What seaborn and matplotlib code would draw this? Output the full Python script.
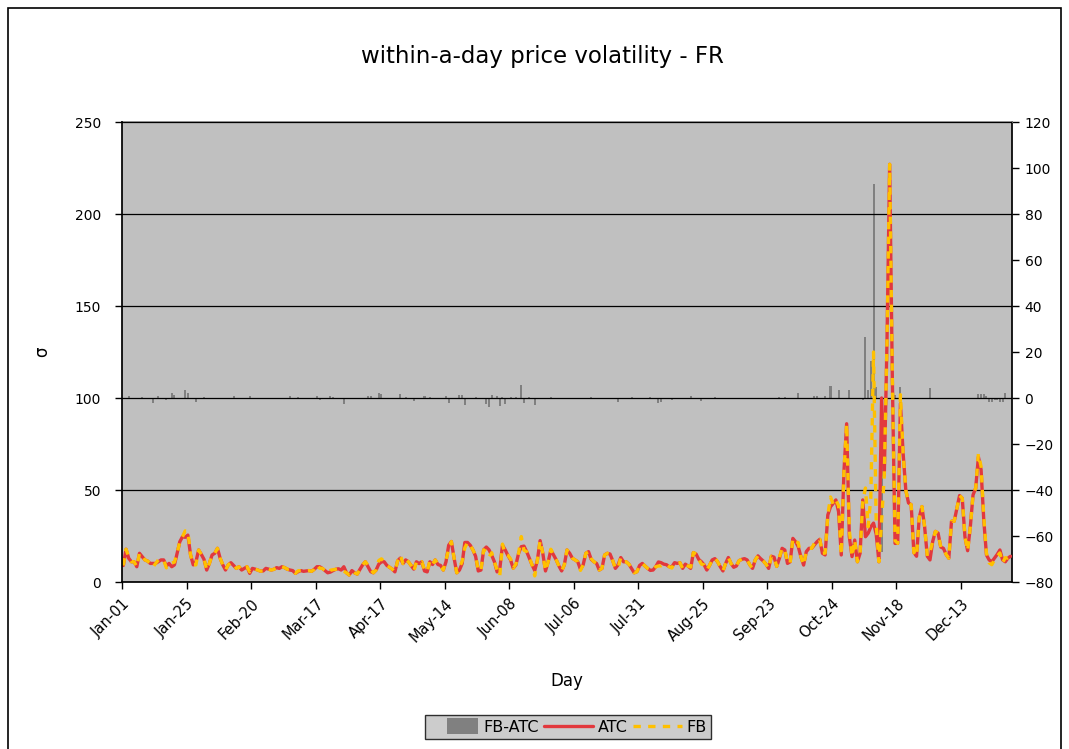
import numpy as np
import pandas as pd
import matplotlib
matplotlib.use("Agg")
import matplotlib.pyplot as plt
import seaborn as sns
from matplotlib.patches import Rectangle, Patch
from matplotlib.lines import Line2D
from matplotlib.legend_handler import HandlerPatch

# ---------------- data ----------------
TICK_LABELS = ["Jan-01", "Jan-25", "Feb-20", "Mar-17", "Apr-17", "May-14", "Jun-08",
               "Jul-06", "Jul-31", "Aug-25", "Sep-23", "Oct-24", "Nov-18", "Dec-13"]
TICK_STEP = 24

ATC = [
    9, 17.8, 12.9, 11, 11, 8.3, 15.6, 13.8, 12, 11.4, 10.1, 10.1, 10.1, 11, 12, 12, 8.7, 10.1, 8.3, 9.3, 15.6, 21.9, 24.6, 24.3,
    25.5, 14.7, 9.3, 11, 17.4, 15, 12.3, 6.5, 10.1, 14.7, 15.6, 18.3, 12.9, 9.3, 6.5, 9.3, 10.5, 9, 7.4, 8.3, 6.5, 7.4, 8.3, 4.7,
    7.4, 7, 6.5, 5.9, 6, 7.4, 7, 6.5, 6.9, 7.8, 7.4, 8.3, 7.8, 6.9, 6.5, 6.2, 4.7, 5.6, 6.2, 5.8, 6, 6.2, 5.8, 6.9,
    8.3, 8.3, 7.4, 6.2, 5, 5.4, 6.2, 6.9, 7.2, 6.5, 8.3, 5, 3.8, 6.2, 5, 4.3, 6.9, 9.3, 11, 8.3, 5.6, 5, 6.5, 9.7,
    11, 11, 9, 8, 7, 5.5, 11.5, 13, 10, 12, 11, 9, 7, 11, 10, 11, 6, 5.5, 11, 9.5, 12, 9.5, 9, 6.5,
    11, 20, 22, 13, 5, 6.5, 10, 21.5, 21.5, 20, 17.5, 14, 6, 6.5, 17.5, 19, 17.5, 14.5, 11, 5.5, 7, 20, 17.5, 14.5,
    12, 7.5, 9.3, 15.6, 19.2, 19.5, 16.5, 12.9, 9.3, 6.2, 12, 22.5, 15.6, 6, 11, 17.4, 14.7, 12, 8.7, 6, 9.3, 17.4, 15.6, 12.9,
    12, 11, 6.9, 9.3, 15.6, 16.5, 12.3, 11, 10.1, 6.5, 7.4, 14.7, 15.6, 15.2, 11.6, 7.4, 9.3, 13.3, 11, 11, 9.7, 7.4, 5, 5.6,
    9, 10.1, 8.7, 7.4, 6.3, 6.5, 8.3, 10.9, 10.5, 9.7, 9.4, 8.3, 8.3, 10.5, 10.1, 10.5, 7.4, 9.7, 8.7, 7.4, 16, 15.2, 12.3, 11,
    9.3, 6.5, 9, 12, 12.7, 11, 8.3, 6, 10.1, 13.3, 10.1, 8, 8.7, 11.6, 12.3, 12.7, 12, 9.3, 7.4, 12, 14.2, 12.7, 11.4, 9.7,
    7.4, 14, 13.5, 8.5, 12.9, 18.3, 17.4, 10.1, 11, 23.7, 21.9, 19.2, 13.7, 9.2, 16.5, 18.3, 18.3, 20.1, 21.9, 23.2, 15.6, 14.7, 36.4, 40.9,
    42.7, 44.6, 38.2, 14.7, 60, 86, 24.6, 13.8, 22.8, 11, 15.6, 44.6, 24.6, 26.5, 30, 32, 26, 11, 100, 58, 130, 227, 110, 21,
    21, 97, 70, 50, 43, 42, 16, 14, 35, 41, 30, 14, 12, 22, 27.5, 26.6, 19, 18.3, 15, 12.9, 33, 33, 40, 47,
    45.5, 24.6, 17, 30, 47.3, 51, 68, 61, 33.7, 14.7, 12, 11, 13, 15, 17.4, 12, 11, 13, 14,
]

FB = [
    9, 17.8, 13.6, 11, 11, 8.3, 15.6, 14.3, 12, 11.4, 10.1, 8.1, 10.1, 12, 12, 12, 7.7, 10.1, 10.3, 10.8, 15.6, 21.9, 24.6, 27.8,
    27.5, 14.7, 9.3, 9.3, 17.4, 15, 12.8, 6.5, 10.1, 14.7, 15.6, 18.3, 12.9, 9.3, 6.5, 9.3, 10.5, 10, 7.4, 8.3, 6.5, 7.4, 8.3, 5.5,
    7.4, 7, 6.5, 5.9, 6, 7.4, 7, 6.5, 6.9, 7.8, 7.4, 8.3, 7.8, 6.9, 7.2, 6.2, 4.7, 6.1, 6.2, 5.8, 6, 6.2, 5.8, 6.9,
    9.3, 7.5, 7.4, 6.2, 5, 6.4, 6.7, 6.9, 7.2, 6.5, 5.8, 5, 3.8, 6.2, 5, 4.3, 6.9, 9.3, 11, 9.1, 6.6, 5, 6.5, 11.7,
    12.6, 11, 9, 8, 7, 5.5, 11.5, 14.7, 10, 12.6, 11, 9, 5.7, 11, 10, 11, 6.7, 5.5, 11.6, 9.5, 12, 9.5, 9, 6.5,
    12, 17.8, 22, 13, 5, 7.9, 11.2, 18.6, 21.5, 20, 17.5, 14.6, 6, 6.5, 17.5, 16.5, 13.6, 15.9, 11, 6.5, 3.4, 20.6, 15, 14.5,
    12.6, 7.5, 9.7, 15.6, 24.7, 17.3, 16.5, 13.3, 9.3, 3.3, 12, 22.5, 15.6, 6, 11, 17.8, 14.7, 12, 8.7, 6, 9.3, 17.4, 15.6, 12.9,
    12, 11, 6.3, 9.3, 15.6, 16.5, 12.7, 11, 10.1, 6.5, 7.4, 14.7, 15.6, 15.2, 11.6, 7.4, 7.6, 13.3, 11, 11, 9.7, 7.8, 5, 5.6,
    9, 10.1, 8.7, 7.4, 6.7, 6.5, 8.3, 8.7, 8.8, 9.7, 9.4, 8.3, 7.6, 10.5, 10.1, 10.5, 7.4, 9.7, 8.7, 8.1, 16, 15.2, 12.3, 9.7,
    9.3, 6.5, 9, 12, 13.1, 11, 8.3, 6, 10.1, 13.3, 10.1, 8, 8.7, 11.6, 12.3, 12.7, 12, 9.3, 7.4, 12, 14.2, 12.7, 11.4, 9.7,
    7.4, 14, 13.5, 8.5, 13.3, 18.3, 17.8, 10.1, 10.5, 23.7, 21.9, 21.4, 13.7, 9.2, 16.5, 18.3, 18.3, 21.1, 22.9, 23.2, 15.6, 15.7, 36.4, 46.2,
    42.2, 44.6, 41.5, 14.7, 60, 86, 28.2, 13.8, 22.8, 11, 15.6, 43.8, 51.1, 30, 46, 125, 31, 11, 33, 58, 130, 227, 112, 22.5,
    21, 101.8, 70, 50, 43, 42, 16, 14, 35, 41, 30, 14, 16.3, 22, 27.5, 26.6, 19, 18.3, 15, 12.9, 33, 33, 40, 47,
    45.5, 24.6, 17, 30, 47.3, 51, 69.7, 62.7, 35.4, 15.7, 10.4, 9.4, 12.2, 14, 15.8, 10.4, 13.2, 13, 14,
]

FB_ATC = [
    0, 0, 0.7, 0, 0, 0, 0, 0.5, 0, 0, 0, -2, 0, 1, 0, 0, -1, 0, 2, 1.5, 0, 0, 0, 3.5,
    2, 0, 0, -1.7, 0, 0, 0.5, 0, 0, 0, 0, 0, 0, 0, 0, 0, 0, 1, 0, 0, 0, 0, 0, 0.8,
    0, 0, 0, 0, 0, 0, 0, 0, 0, 0, 0, 0, 0, 0, 0.7, 0, 0, 0.5, 0, 0, 0, 0, 0, 0,
    1, -0.8, 0, 0, 0, 1, 0.5, 0, 0, 0, -2.5, 0, 0, 0, 0, 0, 0, 0, 0, 0.8, 1, 0, 0, 2,
    1.6, 0, 0, 0, 0, 0, 0, 1.7, 0, 0.6, 0, 0, -1.3, 0, 0, 0, 0.7, 0, 0.6, 0, 0, 0, 0, 0,
    1, -2.2, 0, 0, 0, 1.4, 1.2, -2.9, 0, 0, 0, 0.6, 0, 0, 0, -2.5, -3.9, 1.4, 0, 1, -3.6, 0.6, -2.5, 0,
    0.6, 0, 0.4, 0, 5.5, -2.2, 0, 0.4, 0, -2.9, 0, 0, 0, 0, 0, 0.4, 0, 0, 0, 0, 0, 0, 0, 0,
    0, 0, -0.6, 0, 0, 0, 0.4, 0, 0, 0, 0, 0, 0, 0, 0, 0, -1.7, 0, 0, 0, 0, 0.4, 0, 0,
    0, 0, 0, 0, 0.4, 0, 0, -2.2, -1.7, 0, 0, 0, -0.7, 0, 0, 0, 0, 0, 0, 0.7, 0, 0, 0, -1.3,
    0, 0, 0, 0, 0.4, 0, 0, 0, 0, 0, 0, 0, 0, 0, 0, 0, 0, 0, 0, 0, 0, 0, 0, 0,
    0, 0, 0, 0, 0.4, 0, 0.4, 0, -0.5, 0, 0, 2.2, 0, 0, 0, 0, 0, 1, 1, 0, 0, 1, 0, 5.3,
    -0.5, 0, 3.3, 0, 0, 0, 3.6, 0, 0, 0, 0, -0.8, 26.5, 3.5, 16, 93, 5, 0, -67, 0, 0, 0, 2, 1.5,
    0, 4.8, 0, 0, 0, 0, 0, 0, 0, 0, 0, 0, 4.3, 0, 0, 0, 0, 0, 0, 0, 0, 0, 0, 0,
    0, 0, 0, 0, 0, 0, 1.7, 1.7, 1.7, 1, -1.6, -1.6, -0.8, -1, -1.6, -1.6, 2.2, 0, 0,
]

# ---------------- style ----------------
sns.set_theme(style="white")
plt.rcParams['font.family'] = ['DejaVu Sans']
plt.rcParams['text.color'] = 'black'
plt.rcParams['xtick.color'] = 'black'
plt.rcParams['ytick.color'] = 'black'

RED = "#E2383D"
YELLOW = "#FFC000"
GREY = "#808080"
PLOT_BG = "#C0C0C0"

n = len(ATC)
df = pd.DataFrame({"day": np.arange(n), "ATC": ATC, "FB": FB, "FB-ATC": FB_ATC})

W, H = 1069, 749
fig = plt.figure(figsize=(W / 100, H / 100), dpi=100)
fig.patch.set_facecolor("white")

L, R, T, B = 122, 1012, 122, 582
ax = fig.add_axes([L / W, 1 - B / H, (R - L) / W, (B - T) / H])
ax2 = ax.twinx()
ax.set_zorder(ax2.get_zorder() + 1)
ax.patch.set_visible(False)
ax2.patch.set_visible(True)
ax2.patch.set_facecolor(PLOT_BG)

# bars on secondary axis
sns.barplot(data=df, x="day", y="FB-ATC", native_scale=True, color=GREY, saturation=1,
            width=0.75, errorbar=None, linewidth=0, ax=ax2)

# lines on primary axis
sns.lineplot(data=df, x="day", y="ATC", ax=ax, color=RED, linewidth=2.4,
             estimator=None, sort=False, legend=False)
sns.lineplot(data=df, x="day", y="FB", ax=ax, color=YELLOW, linewidth=2.4,
             estimator=None, sort=False, legend=False)
ax.lines[-1].set_dashes([2.2, 2.2])

# axes limits / ticks
ax.set_xlim(-0.5, n - 0.5)
ax.set_ylim(0, 250)
ax.set_yticks(np.arange(0, 251, 50))
ax2.set_ylim(-80, 120)
ax2.set_yticks(np.arange(-80, 121, 20))

tick_pos = np.arange(len(TICK_LABELS)) * TICK_STEP - 0.5
ax.set_xticks(tick_pos)
ax.set_xticklabels(TICK_LABELS, rotation=45, ha="right", rotation_mode="anchor", fontsize=10.5)

ax.yaxis.grid(True, color="black", linewidth=0.9)
ax.xaxis.grid(False)
ax2.grid(False)

for a in (ax, ax2):
    for s in a.spines.values():
        s.set_visible(False)
ax.spines["left"].set_visible(True)
ax.spines["left"].set_color("black")
ax.spines["bottom"].set_visible(True)
ax.spines["bottom"].set_color("black")
ax2.spines["right"].set_visible(True)
ax2.spines["right"].set_color("black")
ax2.spines["top"].set_visible(True)
ax2.spines["top"].set_color(GREY)

ax.tick_params(axis="y", which="both", direction="out", length=5, width=1, color="black",
               labelsize=10, pad=10, left=True)
ax.tick_params(axis="x", direction="out", length=5, width=1, color="black", bottom=True,
               pad=5, labelbottom=True)
ax2.tick_params(axis="y", direction="out", length=5, width=1, color="black",
                labelsize=10, pad=4, right=True)
ax2.tick_params(axis="x", bottom=False, top=False, labelbottom=False, labeltop=False)

ax.set_xlabel("")
ax.set_ylabel("")
ax2.set_ylabel("")
ax2.set_xlabel("")

fig.text(567 / W, 1 - 681 / H, "Day", ha="center", va="center", fontsize=12)
fig.text(42 / W, 1 - 352 / H, "σ", ha="center", va="center", fontsize=12, rotation=90)
fig.text(542 / W, 1 - 56 / H, "within-a-day price volatility - FR", ha="center", va="center",
         fontsize=16.5)


# legend: grey box handle is shorter than the line handles and sits next to its text
def short_patch(legend, orig_handle, xdescent, ydescent, width, height, fontsize):
    w = width * 0.64
    return Rectangle((-xdescent + width - w, -ydescent - height * 0.1), w, height * 1.2)


handles = [Patch(facecolor=GREY, edgecolor="none"),
           Line2D([0], [0], color=RED, lw=2.4),
           Line2D([0], [0], color=YELLOW, lw=2.4, dashes=[2.2, 2.2])]
leg = fig.legend(handles, ["FB-ATC", "ATC", "FB"], loc="center",
                 bbox_to_anchor=(568 / W, 1 - 727 / H), ncol=3, frameon=True,
                 fancybox=False, facecolor=PLOT_BG, edgecolor="black", fontsize=11.5,
                 handlelength=3.1, handleheight=0.9, handletextpad=0.3, columnspacing=0.3,
                 borderpad=0.25, borderaxespad=0,
                 handler_map={Patch: HandlerPatch(patch_func=short_patch)})
leg.get_frame().set_linewidth(1.0)

# outer chart border
fig.patches.append(Rectangle((8 / W, -0.02), (1061 - 8) / W, 1 - 8 / H + 0.02,
                             transform=fig.transFigure, fill=False, edgecolor="black",
                             linewidth=1.2))

fig.savefig("out.png", dpi=100, facecolor="white")
